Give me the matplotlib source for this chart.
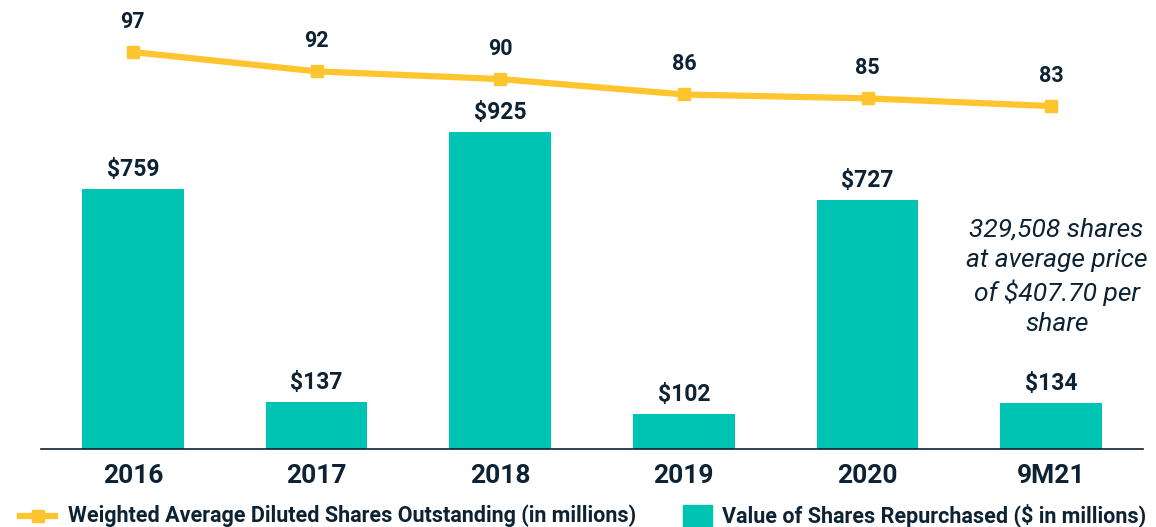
import matplotlib
matplotlib.use("Agg")
import matplotlib.pyplot as plt
from matplotlib.lines import Line2D
from matplotlib.patches import Rectangle

categories = ["2016", "2017", "2018", "2019", "2020", "9M21"]
repurchased = [759, 137, 925, 102, 727, 134]
diluted_shares = [97, 92, 90, 86, 85, 83]
bar_labels = ["$759", "$137", "$925", "$102", "$727", "$134"]
annotation = "329,508 shares\nat average price\nof $407.70 per\nshare"
legend_labels = ["Weighted Average Diluted Shares Outstanding (in millions)",
                 "Value of Shares Repurchased ($ in millions)"]

TEAL = "#00C4B3"
YELLOW = "#FFC52F"
DARK = "#0D2233"

plt.rcParams['font.family'] = ['Roboto', 'DejaVu Sans']

W, H = 1156, 527
fig = plt.figure(figsize=(W/100, H/100), dpi=100)
left, right, top, bottom = 41, 1143, 10, 449
ax = fig.add_axes([left/W, 1 - bottom/H, (right-left)/W, (bottom-top)/H])
x = list(range(len(categories)))
ax.bar(x, repurchased, width=0.555, color=TEAL, zorder=2)
ax.set_xlim(-0.5, len(categories) - 0.5)
ax.set_ylim(0, 1281)
for s in ["top", "right", "left"]:
    ax.spines[s].set_visible(False)
ax.spines["bottom"].set_color(DARK)
ax.spines["bottom"].set_linewidth(1.2)
ax.set_yticks([])
ax.set_xticks(x)
ax.set_xticklabels(categories, fontsize=19, fontweight="bold", color=DARK)
ax.tick_params(axis="x", length=0, pad=11)
for xi, v, lab in zip(x, repurchased, bar_labels):
    ax.annotate(lab, (xi, v), xytext=(0, 6), textcoords="offset points",
                ha="center", va="bottom", fontsize=16.5, fontweight="bold", color=DARK)

ax2 = ax.twinx()
ax2.set_ylim(-5.9, 107.9)
ax2.axis("off")
ax2.plot(x, diluted_shares, color=YELLOW, lw=4.5, marker="s", markersize=9, zorder=3)
for xi, v in zip(x, diluted_shares):
    ax2.annotate(str(v), (xi, v), xytext=(0, 14), textcoords="offset points",
                 ha="center", va="bottom", fontsize=15.5, fontweight="bold", color=DARK)

ax.text(5.03, 1281 * (449 - 218) / 439, annotation, ha="center", va="top",
        fontsize=19, style="italic", color=DARK, linespacing=1.33)

# legend
ly = 1 - 516/H
fig.add_artist(Line2D([20/W, 55/W], [ly, ly], color=YELLOW, lw=4.5,
                      transform=fig.transFigure))
fig.add_artist(Line2D([37.5/W], [ly], color=YELLOW, marker="s", markersize=9,
                      transform=fig.transFigure))
fig.text(68/W, ly, legend_labels[0], ha="left", va="center", fontsize=15.5,
         fontweight="bold", color=DARK)
fig.add_artist(Rectangle((683/W, 1 - 527/H), 29/W, 22/H, color=TEAL,
                         transform=fig.transFigure))
fig.text(722/W, ly, legend_labels[1], ha="left", va="center", fontsize=15.5,
         fontweight="bold", color=DARK)

fig.savefig("out.png", dpi=100)
